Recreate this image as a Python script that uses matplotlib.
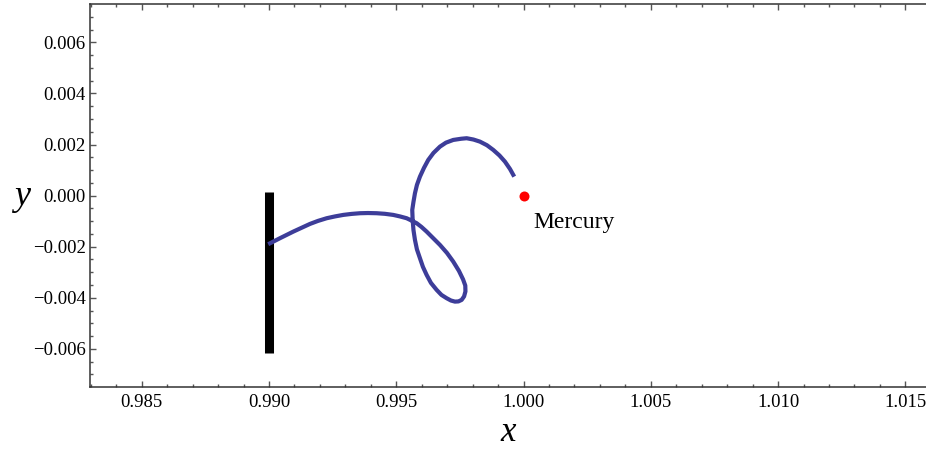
import matplotlib
matplotlib.use("Agg")
import matplotlib.pyplot as plt
from matplotlib.ticker import MultipleLocator

plt.rcParams['font.family'] = ['Liberation Serif', 'DejaVu Serif']
plt.rcParams['axes.unicode_minus'] = True

# trajectory of the probe near Mercury
path_x = [0.98997, 0.990432, 0.990955, 0.991610, 0.991925, 0.992266, 0.992593,
          0.992918, 0.993241, 0.993574, 0.993889, 0.994231, 0.994556, 0.994883,
          0.995146, 0.995409, 0.995597, 0.995802, 0.995990, 0.996194, 0.996442,
          0.996717, 0.996992, 0.997239, 0.997463, 0.997625, 0.997712, 0.997718,
          0.997665, 0.997569, 0.997443, 0.997306, 0.997149, 0.996980, 0.996776,
          0.996587, 0.996363, 0.996194, 0.996049, 0.995931, 0.995813, 0.995735,
          0.995676, 0.995645, 0.995629, 0.995676, 0.995735, 0.995813, 0.995931,
          0.996088, 0.996257, 0.996462, 0.996717, 0.996953, 0.997239, 0.997553,
          0.997766, 0.998033, 0.998288, 0.998563, 0.998811, 0.999054, 0.999270,
          0.999467, 0.999635]
path_y = [-0.001902, -0.001667, -0.001409, -0.001108, -0.000990, -0.000885, -0.000814,
          -0.000755, -0.000716, -0.000689, -0.000681, -0.000689, -0.000712, -0.000755,
          -0.000814, -0.000885, -0.000975, -0.001080, -0.001225, -0.001409, -0.001656,
          -0.001930, -0.002243, -0.002583, -0.002947, -0.003280, -0.003520, -0.003750,
          -0.003945, -0.004082, -0.004141, -0.004149, -0.004106, -0.004016, -0.003887,
          -0.003691, -0.003417, -0.003104, -0.002791, -0.002450, -0.002106, -0.001734,
          -0.001343, -0.000951, -0.000560, -0.000247, 0.000094, 0.000419, 0.000744,
          0.001084, 0.001397, 0.001671, 0.001918, 0.002074, 0.002180, 0.002227,
          0.002247, 0.002196, 0.002114, 0.001973, 0.001789, 0.001573, 0.001331,
          0.001045, 0.000744]

# launch wall
wall_x = [0.990, 0.990]
wall_y = [-0.00615, 0.00016]

# planet
mercury_x = 1.000
mercury_y = 0.000

fig = plt.figure(figsize=(9.26, 4.5), dpi=100)
ax = fig.add_axes([90 / 926, 63.3 / 450, 836 / 926, 382.4 / 450])

ax.plot(wall_x, wall_y, color='black', lw=6.5, solid_capstyle='butt', zorder=2)
ax.plot(path_x, path_y, color='#3d3d99', lw=3.0, solid_capstyle='butt',
        solid_joinstyle='round', zorder=3)
ax.plot([mercury_x], [mercury_y], 'o', color='red', ms=7.2, mec='none', zorder=4)
ax.text(mercury_x + 0.00037, mercury_y - 0.00126, 'Mercury', fontsize=17,
        ha='left', va='baseline')

ax.set_xlim(0.98297, 1.01581)
ax.set_ylim(-0.00748, 0.00749)

ax.xaxis.set_major_locator(MultipleLocator(0.005))
ax.xaxis.set_minor_locator(MultipleLocator(0.001))
ax.yaxis.set_major_locator(MultipleLocator(0.002))
ax.yaxis.set_minor_locator(MultipleLocator(0.0005))
ax.xaxis.set_major_formatter(lambda v, p: f"{v:.3f}")
ax.yaxis.set_major_formatter(lambda v, p: f"{v:.3f}".replace('-', '\u2212') if abs(v) > 1e-12 else "0.000")

ax.tick_params(which='both', direction='in', top=True, right=False,
               color='#555555', width=1.0, labelsize=13.5, labelcolor='black')
ax.tick_params(which='major', length=4)
ax.tick_params(which='minor', length=2.5)
ax.tick_params(axis='x', pad=5)
ax.tick_params(axis='y', pad=3)

for side in ['left', 'bottom', 'top']:
    ax.spines[side].set_color('#333333')
    ax.spines[side].set_linewidth(1.1)
ax.spines['right'].set_visible(False)

ax.set_xlabel('x', fontsize=25, fontstyle='italic', va='baseline')
ax.xaxis.set_label_coords(0.5, -0.142)
ax.set_ylabel('y', fontsize=26, fontstyle='italic', rotation=0,
              ha='center', va='baseline')
ax.yaxis.set_label_coords(-0.081, 0.475)

fig.savefig('out.png', dpi=100)
